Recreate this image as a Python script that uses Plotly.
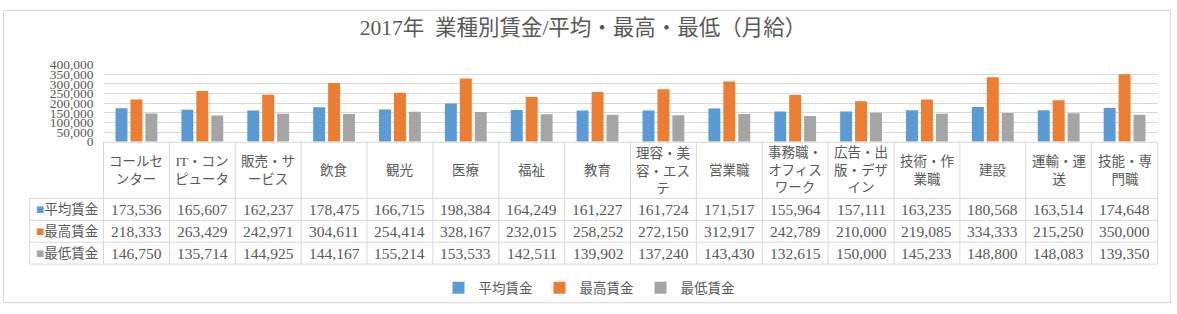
import plotly.graph_objects as go

# ---------------- data ----------------
categories = ["コールセンター", "IT・コンピュータ", "販売・サービス", "飲食", "観光", "医療",
              "福祉", "教育", "理容・美容・エステ", "営業職", "事務職・オフィスワーク",
              "広告・出版・デザイン", "技術・作業職", "建設", "運輸・運送", "技能・専門職"]
header_labels = ["コールセ<br>ンター", "IT・コン<br>ピュータ", "販売・サ<br>ービス", "飲食", "観光", "医療",
                 "福祉", "教育", "理容・美<br>容・エス<br>テ", "営業職", "事務職・<br>オフィス<br>ワーク",
                 "広告・出<br>版・デザ<br>イン", "技術・作<br>業職", "建設", "運輸・運<br>送", "技能・専<br>門職"]
series_names = ["平均賃金", "最高賃金", "最低賃金"]
avg_wage = [173536, 165607, 162237, 178475, 166715, 198384, 164249, 161227,
            161724, 171517, 155964, 157111, 163235, 180568, 163514, 174648]
max_wage = [218333, 263429, 242971, 304611, 254414, 328167, 232015, 258252,
            272150, 312917, 242789, 210000, 219085, 334333, 215250, 350000]
min_wage = [146750, 135714, 144925, 144167, 155214, 153533, 142511, 139902,
            137240, 143430, 132615, 150000, 145233, 148800, 148083, 139350]
y_ticks = [0, 50000, 100000, 150000, 200000, 250000, 300000, 350000, 400000]
title_text = "2017年  業種別賃金/平均・最高・最低（月給）"

# ---------------- style ----------------
colors = ["#5B9BD5", "#ED7D31", "#A5A5A5"]
W, H = 1177, 314
FONT = "Liberation Serif, 'Noto Sans CJK JP', serif"
TXT = "#595959"
GRID = "#D9D9D9"


def py(px):
    return 1 - px / H


plot_left, plot_right = 103.5, 1157.5
plot_top, plot_bottom = 60.5, 141.5
lbl_left = (29.5 - plot_left) / (plot_right - plot_left)
header_top, header_bottom = 142, 201
row_bounds = [201, 224, 247, 270]

fig = go.Figure()
all_series = [avg_wage, max_wage, min_wage]
for name, vals, c in zip(series_names, all_series, colors):
    fig.add_trace(go.Bar(x=categories, y=vals, name=name, marker=dict(color=c, line=dict(width=0))))

n = len(categories)
shapes = []
line = dict(color=GRID, width=1)
# table horizontal lines
shapes.append(dict(type="line", xref="x domain", yref="paper", x0=0, x1=1,
                   y0=py(header_top), y1=py(header_top), line=line))
for yb in row_bounds:
    shapes.append(dict(type="line", xref="x domain", yref="paper", x0=lbl_left, x1=1,
                       y0=py(yb), y1=py(yb), line=line))
# vertical lines
shapes.append(dict(type="line", xref="x domain", yref="paper", x0=lbl_left, x1=lbl_left,
                   y0=py(row_bounds[0]), y1=py(row_bounds[-1]), line=line))
for i in range(n + 1):
    shapes.append(dict(type="line", xref="x domain", yref="paper", x0=i / n, x1=i / n,
                       y0=py(header_top), y1=py(row_bounds[-1]), line=line))
# outer chart border
shapes.append(dict(type="rect", xref="paper", yref="paper", x0=3.5 / W, x1=1170.5 / W,
                   y0=py(310.5), y1=py(3.5), line=dict(color=GRID, width=1), fillcolor="rgba(0,0,0,0)",
                   layer="below"))

annotations = []
for i, lab in enumerate(header_labels):
    annotations.append(dict(x=(i + 0.5) / n, xref="x domain", y=py((header_top + header_bottom) / 2),
                            yref="paper", text=lab, showarrow=False, align="center",
                            xanchor="center", yanchor="middle",
                            font=dict(size=13.5, color=TXT, family=FONT)))
for r, (name, vals, c) in enumerate(zip(series_names, all_series, colors)):
    yc = py((row_bounds[r] + row_bounds[r + 1]) / 2)
    annotations.append(dict(x=lbl_left + 0.004, xref="x domain", y=yc, yref="paper",
                            text=f'<span style="color:{c}">■</span>{name}', showarrow=False,
                            xanchor="left", yanchor="middle",
                            font=dict(size=13.5, color=TXT, family=FONT)))
    for i, v in enumerate(vals):
        annotations.append(dict(x=(i + 0.5) / n, xref="x domain", y=yc, yref="paper",
                                text=f"{v:,}", showarrow=False, xanchor="center", yanchor="middle",
                                font=dict(size=15.5, color=TXT, family=FONT)))

fig.update_layout(
    width=W, height=H, margin=dict(l=0, r=0, t=0, b=0),
    paper_bgcolor="white", plot_bgcolor="white",
    font=dict(family=FONT, color=TXT),
    title=dict(text=title_text, x=583 / W, xanchor="center", y=py(27), yanchor="middle",
               font=dict(size=21.5, color=TXT, family=FONT)),
    barmode="group", bargap=0.32, bargroupgap=0.2,
    xaxis=dict(domain=[plot_left / W, plot_right / W], showticklabels=False, showgrid=False,
               showline=False, zeroline=False, ticks=""),
    yaxis=dict(domain=[py(plot_bottom), py(plot_top)], range=[-400, 400000], tickvals=y_ticks,
               tickformat=",", showgrid=True, gridcolor=GRID, gridwidth=1, zeroline=False,
               showline=False, ticks="", ticklabelstandoff=9, ticklabeloverflow="allow",
               tickfont=dict(size=13.5, color=TXT, family=FONT)),
    legend=dict(orientation="h", x=590 / W, xanchor="center", y=py(295), yanchor="middle",
                font=dict(size=13.5, color=TXT, family=FONT), itemwidth=30, entrywidth=56,
                traceorder="normal", bgcolor="rgba(0,0,0,0)"),
    shapes=shapes, annotations=annotations, showlegend=True,
)

fig.write_html("out.html")
